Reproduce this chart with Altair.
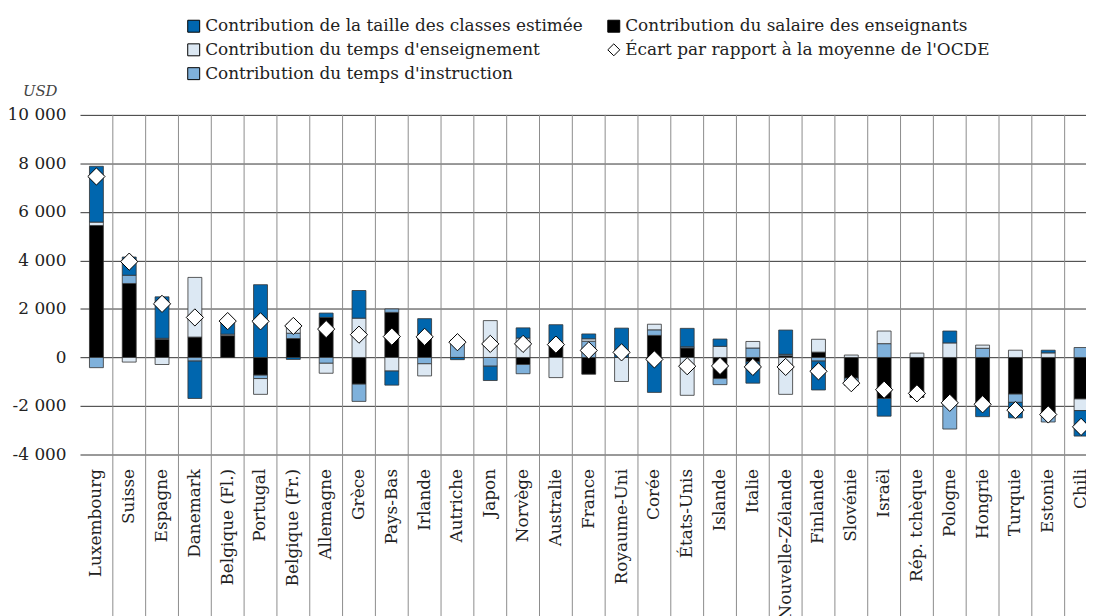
import altair as alt
import pandas as pd

countries = ["Luxembourg", "Suisse", "Espagne", "Danemark", "Belgique (Fl.)", "Portugal",
             "Belgique (Fr.)", "Allemagne", "Grèce", "Pays-Bas", "Irlande", "Autriche",
             "Japon", "Norvège", "Australie", "France", "Royaume-Uni", "Corée", "États-Unis",
             "Islande", "Italie", "Nouvelle-Zélande", "Finlande", "Slovénie", "Israël",
             "Rép. tchèque", "Pologne", "Hongrie", "Turquie", "Estonie", "Chili"]

salaire = [5440, 3050, 740, 840, 900, -730, 780, 1650, -1100, 1860, 950, 0, 0, -290, 450, -690,
           0, 910, 390, -870, -180, 70, 220, -850, -1690, -1650, -1850, -1900, -1510, -2390, -1710]
instruction = [-420, 340, 50, -150, 0, -140, 220, -240, -710, 140, -260, 720, -360, -380, 0, 670,
               0, 230, 50, -250, 390, 60, -150, -300, 570, 0, -1100, 380, -340, -270, 410]
enseignement = [140, -190, -290, 2460, 60, -650, 380, -410, 1620, -560, -500, 0, 1520, 800, -830, 100,
                -990, 230, -1560, 460, 270, -1520, 530, 100, 520, 180, 600, 130, 300, 190, -480]
classes = [2300, 750, 1710, -1540, 540, 3000, -80, 180, 1140, -580, 650, -90, -590, 420, 900, 200,
           1210, -1440, 760, 300, -880, 1000, -1190, 0, -730, 0, 490, -540, -640, 110, -1050]
ecart = [7460, 3950, 2210, 1650, 1500, 1490, 1300, 1170, 940, 860, 850, 630, 560, 560, 530, 290,
         210, -80, -360, -350, -390, -390, -570, -1060, -1330, -1480, -1870, -1930, -2170, -2350, -2860]

serie_classes = "Contribution de la taille des classes estimée"
serie_salaire = "Contribution du salaire des enseignants"
serie_ens = "Contribution du temps d'enseignement"
serie_ecart = "Écart par rapport à la moyenne de l'OCDE"
serie_instr = "Contribution du temps d'instruction"

# vertical legend with 2 columns fills column by column
legend_order = [serie_classes, serie_ens, serie_instr, serie_salaire, serie_ecart]
fill_range = ["#0066AE", "#DCE8F3", "#7FB1DB", "#000000", "#FFFFFF"]
shape_range = ["square", "square", "square", "square", "diamond"]

rows = []
for i, c in enumerate(countries):
    for order, (serie, vals) in enumerate([(serie_salaire, salaire), (serie_instr, instruction),
                                           (serie_ens, enseignement), (serie_classes, classes)]):
        if vals[i] != 0:
            rows.append({"pays": c, "serie": serie, "valeur": vals[i], "ordre": order})
bars_df = pd.DataFrame(rows)
ecart_df = pd.DataFrame({"pays": countries, "valeur": ecart, "serie": [serie_ecart] * len(countries)})
sep_df = pd.DataFrame({"pays": countries})

FONT = "DejaVu Serif, Liberation Serif, serif"
W, H = 1013, 342
STEP = 33.05

x_scale = alt.Scale(domain=countries, range=[0, STEP * len(countries)], paddingInner=0, paddingOuter=0)
y_scale = alt.Scale(domain=[-4000, 10000], nice=False)
fill_scale = alt.Scale(domain=legend_order, range=fill_range)
shape_scale = alt.Scale(domain=legend_order, range=shape_range)

x_axis = alt.Axis(title=None, labelAngle=270, labelFont=FONT, labelFontSize=17, labelColor="#222222",
                  labelPadding=14, ticks=False, domain=False, grid=False, labelLimit=400)
y_axis = alt.Axis(values=list(range(-4000, 10001, 2000)), title="USD", titleAngle=0, titleFont=FONT,
                  titleFontStyle="italic", titleFontWeight="normal", titleFontSize=15,
                  titleColor="#444444", titleX=-58, titleY=-24, titleAlign="left",
                  titleBaseline="middle", labelFont=FONT, labelFontSize=17, labelColor="#222222",
                  labelPadding=14, ticks=False, domain=False, grid=True, gridColor="#333333",
                  gridWidth=1,
                  labelExpr="(datum.value < 0 ? '-' : '') + replace(format(abs(datum.value), ','), ',', ' ')")

legend_def = alt.Legend(title=None, orient="none", legendX=106, legendY=-98, columns=2,
                        columnPadding=22, rowPadding=6, symbolSize=145,
                        symbolStrokeColor="black", symbolStrokeWidth=1,
                        labelFont=FONT, labelFontSize=17, labelColor="#222222",
                        labelLimit=600, labelOffset=3)

seps = alt.Chart(sep_df).mark_rule(color="#8c8c8c", strokeWidth=1).encode(
    x=alt.X("pays:N", scale=x_scale, bandPosition=1, axis=x_axis),
    y=alt.value(0),
    y2=alt.value(H + 320),
)

bars = alt.Chart(bars_df).mark_bar(size=14, stroke="#333333", strokeWidth=0.8).encode(
    x=alt.X("pays:N", scale=x_scale, axis=x_axis),
    y=alt.Y("valeur:Q", stack="zero", scale=y_scale, axis=y_axis),
    fill=alt.Fill("serie:N", scale=fill_scale, legend=legend_def),
    order=alt.Order("ordre:Q"),
)

points = alt.Chart(ecart_df).mark_point(filled=True, stroke="black", strokeWidth=1, size=300,
                                        opacity=1).encode(
    x=alt.X("pays:N", scale=x_scale, axis=x_axis),
    y=alt.Y("valeur:Q", scale=y_scale, axis=y_axis),
    fill=alt.Fill("serie:N", scale=fill_scale, legend=legend_def),
    shape=alt.Shape("serie:N", scale=shape_scale, legend=legend_def),
)

chart = alt.layer(seps, bars, points).properties(
    width=W, height=H,
    autosize=alt.AutoSizeParams(type="none"),
    padding={"left": 72.5, "top": 105.5, "right": 0, "bottom": 160.5},
    background="white",
).configure_view(stroke=None)

chart.save("out.html", embed_options={"renderer": "svg", "actions": False})
